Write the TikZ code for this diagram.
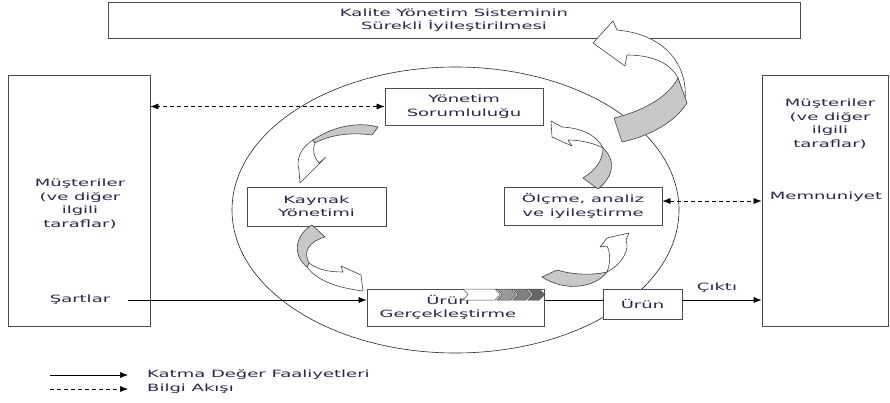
\documentclass[tikz,border=0pt]{standalone}
\usepackage{fontspec}
\setmainfont{DejaVu Sans}[FakeStretch=1.8]
\usetikzlibrary{arrows.meta,calc}
\definecolor{txt}{RGB}{40,40,70}
\definecolor{bandgray}{RGB}{200,200,200}
\begin{document}
\begin{tikzpicture}[x=1pt,y=-1pt,
  box/.style={draw=black!70,line width=0.8pt,fill=white,inner sep=0pt},
  lbl/.style={font=\fontsize{10}{13.5}\selectfont,text=txt,align=center,inner sep=0pt},
  flow/.style={draw=black,line width=0.6pt},
  tipend/.style={-{Latex[length=8pt,width=6pt]}},
  tipboth/.style={{Latex[length=8pt,width=6pt]}-{Latex[length=8pt,width=6pt]}},
  dsh/.style={dash pattern=on 4pt off 3pt},
  wpart/.style={line width=0.6pt,draw=black!75,fill=white,line join=round},
  gpart/.style={line width=0.6pt,draw=black!75,fill=bandgray,line join=round},
  chev/.style={line width=0.5pt,draw=black!70}]
\useasboundingbox (0,0) rectangle (890,403);
% big circle
\draw[line width=0.6pt,black!85] (455.5,210) ellipse [x radius=223.5pt, y radius=143pt];
% boxes
\node[box,lbl,minimum width=692pt,minimum height=36pt] (top) at (454,20) {Kalite Yönetim Sisteminin\\Sürekli İyileştirilmesi};
\node[box,minimum width=142pt,minimum height=251pt] (lbox) at (79,200.5) {};
\node[lbl] (ltxt) at (80,204) {Müşteriler\\(ve diğer\\ilgili\\taraflar)};
\node[lbl] (sart) at (80,300) {Şartlar};
\node[box,minimum width=126pt,minimum height=251pt] (rbox) at (825,200.5) {};
\node[lbl] (rtxt) at (830,124) {Müşteriler\\(ve diğer\\ilgili\\taraflar)};
\node[lbl] (memn) at (826,197) {Memnuniyet};
\node[box,lbl,minimum width=158pt,minimum height=37pt] (yon) at (464,106.5) {Yönetim\\Sorumluluğu};
\node[box,lbl,minimum width=139pt,minimum height=39pt] (kay) at (316.5,206.5) {Kaynak\\Yönetimi};
\node[box,lbl,minimum width=158pt,minimum height=38pt] (olc) at (583,206) {Ölçme, analiz\\ve iyileştirme};
\node[box,minimum width=177pt,minimum height=37pt] (ug) at (455.5,307.5) {};
\node[lbl] (ugt) at (448,307.5) {Ürün\\Gerçekleştirme};
\node[box,lbl,minimum width=79pt,minimum height=30pt] (urun) at (642.5,304) {Ürün};
% chevrons
\draw[chev,fill=white] (463,289) -- (495,289) -- (500,294.5) -- (495,300) -- (463,300) -- (468,294.5) -- cycle;
\draw[chev,fill=black!40] (497,289) -- (511,289) -- (516,294.5) -- (511,300) -- (497,300) -- (502,294.5) -- cycle;
\draw[chev,fill=black!50] (513,289) -- (526,289) -- (531,294.5) -- (526,300) -- (513,300) -- (518,294.5) -- cycle;
\draw[chev,fill=black!60] (528,289) -- (539,289) -- (545,294.5) -- (539,300) -- (528,300) -- (533,294.5) -- cycle;
% flows
\coordinate (s0) at (128,300);
\draw[flow,tipend] (s0) -- (s0 -| ug.west);
\draw[flow] (s0 -| ug.east) -- (s0 -| urun.west);
\draw[flow,tipend] (s0 -| urun.east) -- (s0 -| rbox.west);
\node[lbl] (cikti) at (717,288) {Çıktı};
\draw[flow,dsh,tipboth] (yon.west) -- (yon.west -| lbox.east);
\coordinate (m0) at ([yshift=5pt]olc.east);
\draw[flow,dsh,tipboth] (m0) -- (m0 -| rbox.west);
% curved block arrows
% A1 big top right
\draw[wpart] (685,100) .. controls (688,70) and (670,35) .. (617,30) -- (613,21) -- (593,43) -- (625,66) -- (627,55) .. controls (650,55) and (670,62) .. (678,78) -- cycle;
\draw[gpart] (614,118) .. controls (640,112) and (668,98) .. (678,78) -- (687,103) .. controls (675,122) and (650,136) .. (622,142) -- cycle;
% A2 Yonetim -> Kaynak
\draw[wpart] (313,140) .. controls (300,148) and (296,160) .. (299,170) -- (300,183) -- (326,157) -- (319,163) .. controls (314,158) and (312,150) .. (315,143) -- cycle;
\draw[gpart] (313,140) .. controls (335,125) and (360,122) .. (378,127) -- (372,135) .. controls (350,132) and (330,135) .. (315,143) -- cycle;
% A3 Olcme -> Yonetim
\draw[wpart] (603,148) .. controls (596,134) and (580,128) .. (562,127) -- (551,121) -- (552,137) -- (572,146) -- (568,140) .. controls (582,140) and (596,144) .. (603,148) -- cycle;
\draw[gpart] (603,148) .. controls (616,160) and (614,176) .. (598,189) -- (583,178) .. controls (596,170) and (603,160) .. (603,148) -- cycle;
% A4 Kaynak -> Urun Gerc
\draw[wpart] (307,267) .. controls (318,282) and (340,288) .. (363,291) -- (361,275) -- (341,266) -- (343,272) .. controls (330,272) and (318,270) .. (309,263) -- cycle;
\draw[gpart] (312,225) .. controls (295,235) and (292,255) .. (307,267) -- (309,263) .. controls (303,252) and (308,242) .. (325,237) -- cycle;
% A5 Urun Gerc -> Olcme
\draw[wpart] (607,272) .. controls (622,264) and (630,250) .. (626,240) -- (629,233) -- (607,238) -- (600,247) -- (607,246) .. controls (610,252) and (611,262) .. (607,272) -- cycle;
\draw[gpart] (542,277) .. controls (565,292) and (595,288) .. (607,272) .. controls (590,276) and (570,274) .. (557,270) -- cycle;
% legend
\coordinate (l1a) at (50,375);
\coordinate (l1b) at (128,375);
\draw[flow,tipend] (l1a) -- (l1b);
\node[lbl,anchor=west] (leg1) at (147,375) {Katma Değer Faaliyetleri};
\coordinate (l2a) at (50,389);
\coordinate (l2b) at (128,389);
\draw[flow,dsh,tipend] (l2a) -- (l2b);
\node[lbl,anchor=west] (leg2) at (147,389) {Bilgi Akışı};
\end{tikzpicture}
\end{document}
